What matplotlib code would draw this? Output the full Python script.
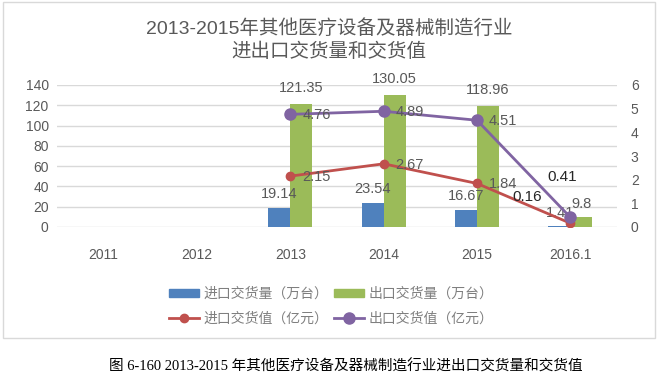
import matplotlib
matplotlib.use("Agg")
import matplotlib.pyplot as plt
from matplotlib.patches import Rectangle, Patch
from matplotlib.lines import Line2D
import numpy as np

plt.rcParams['font.family'] = ['Liberation Sans', 'Noto Sans CJK SC', 'DejaVu Sans']

categories = ["2011", "2012", "2013", "2014", "2015", "2016.1"]
import_qty = [np.nan, np.nan, 19.14, 23.54, 16.67, 1.41]
export_qty = [np.nan, np.nan, 121.35, 130.05, 118.96, 9.8]
import_val = [np.nan, np.nan, 2.15, 2.67, 1.84, 0.16]
export_val = [np.nan, np.nan, 4.76, 4.89, 4.51, 0.41]
left_ticks = [0, 20, 40, 60, 80, 100, 120, 140]
right_ticks = [0, 1, 2, 3, 4, 5, 6]

title = "2013-2015年其他医疗设备及器械制造行业\n进出口交货量和交货值"
caption = "图 6-160 2013-2015 年其他医疗设备及器械制造行业进出口交货量和交货值"
leg_labels = ["进口交货量（万台）", "出口交货量（万台）", "进口交货值（亿元）", "出口交货值（亿元）"]

BLUE, GREEN, RED, PURPLE = "#4F81BD", "#9BBB59", "#C0504D", "#8064A2"
GRAY = "#595959"

W, H = 658, 379
fig = plt.figure(figsize=(W / 100, H / 100), dpi=100)

# chart border
fig.patches.append(Rectangle((3 / W, 1 - 338 / H), 652 / W, 336 / H, transform=fig.transFigure,
                             fill=False, edgecolor="#D9D9D9", linewidth=1))

ax = fig.add_axes([57 / W, 1 - 227 / H, 560 / W, 142 / H])
ax2 = ax.twinx()

x = np.arange(len(categories))
bw = 0.235
ax.bar(x - bw / 2, import_qty, bw, color=BLUE, zorder=2)
ax.bar(x + bw / 2, export_qty, bw, color=GREEN, zorder=2)

ax.set_ylim(0, 140)
ax.set_yticks(left_ticks)
ax.set_xlim(-0.5, len(categories) - 0.5)
ax.set_xticks(x)
ax.set_xticklabels(categories)
ax.grid(axis="y", color="#D9D9D9", linewidth=1, zorder=0)
ax.set_axisbelow(True)
for s in ax.spines.values():
    s.set_visible(False)
ax.tick_params(axis="both", length=0, colors=GRAY, labelsize=10)
ax.tick_params(axis="x", pad=15)
ax.tick_params(axis="y", pad=6)

ax2.plot(x, import_val, color=RED, linewidth=2, marker="o", markersize=6, zorder=3)
ax2.plot(x, export_val, color=PURPLE, linewidth=2, marker="o", markersize=8, zorder=3)
ax2.set_ylim(0, 6)
ax2.set_yticks(right_ticks)
for s in ax2.spines.values():
    s.set_visible(False)
ax2.tick_params(axis="y", length=0, colors=GRAY, labelsize=10, pad=10)

# bar labels
for i in range(len(categories)):
    if np.isnan(import_qty[i]):
        continue
    last = i == len(categories) - 1
    if last:
        ax.annotate(f"{import_qty[i]:g}", (x[i] - bw / 2, import_qty[i]), xytext=(1, 6),
                    textcoords="offset pixels", ha="center", va="bottom", fontsize=10.5, color=GRAY)
        ax.annotate(f"{export_qty[i]:g}", (x[i] + bw / 2, export_qty[i]), xytext=(0, 6),
                    textcoords="offset pixels", ha="center", va="bottom", fontsize=10.5, color=GRAY)
    else:
        ax.annotate(f"{import_qty[i]:g}", (x[i] - bw / 2, import_qty[i]), xytext=(0, 7),
                    textcoords="offset pixels", ha="center", va="bottom", fontsize=10.5, color=GRAY)
        ax.annotate(f"{export_qty[i]:g}", (x[i] + bw / 2, export_qty[i]), xytext=(0, 9),
                    textcoords="offset pixels", ha="center", va="bottom", fontsize=10.5, color=GRAY)

# line labels
for i in range(len(categories)):
    if np.isnan(import_val[i]):
        continue
    if i == len(categories) - 1:
        ax2.annotate(f"{import_val[i]:g}", (x[i], import_val[i]), xytext=(-43, 26),
                     textcoords="offset pixels", ha="center", va="center", fontsize=11, color="#262626",
                     zorder=5)
        ax2.annotate(f"{export_val[i]:g}", (x[i], export_val[i]), xytext=(-8, 40),
                     textcoords="offset pixels", ha="center", va="center", fontsize=11, color="#262626",
                     zorder=5)
    else:
        ax2.annotate(f"{import_val[i]:g}", (x[i], import_val[i]), xytext=(12, -1),
                     textcoords="offset pixels", ha="left", va="center", fontsize=10.5, color=GRAY, zorder=5)
        ax2.annotate(f"{export_val[i]:g}", (x[i], export_val[i]), xytext=(12, -1),
                     textcoords="offset pixels", ha="left", va="center", fontsize=10.5, color=GRAY, zorder=5)

# title
fig.text(0.5, 1 - 40 / H, title, ha="center", va="center", fontsize=14, color=GRAY,
         linespacing=1.4)

# legend
handles = [Patch(color=BLUE), Patch(color=GREEN),
           Line2D([], [], color=RED, linewidth=2, marker="o", markersize=6),
           Line2D([], [], color=PURPLE, linewidth=2, marker="o", markersize=8)]
order = [0, 2, 1, 3]
fig.legend([handles[k] for k in order], [leg_labels[k] for k in order], ncol=2,
           loc="center", bbox_to_anchor=(331 / W, 1 - 306 / H), frameon=False,
           fontsize=10, labelcolor="#7F7F7F", handlelength=2.2, handleheight=0.5,
           handletextpad=0.3, columnspacing=0.4, labelspacing=0.75)

# caption
fig.text(346 / W, 1 - 367 / H, caption, ha="center", va="center", fontsize=10.5, color="black",
         family=["Liberation Serif", "Noto Sans CJK SC"])

fig.savefig("out.png", dpi=100)
